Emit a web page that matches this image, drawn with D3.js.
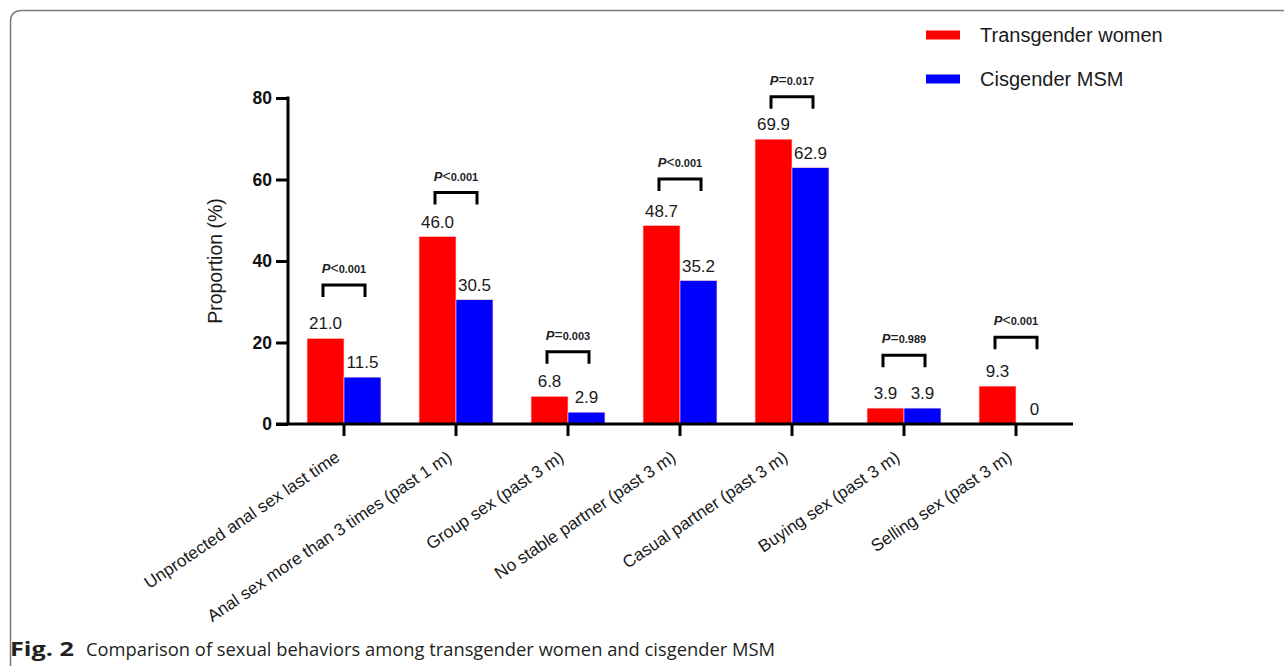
<!DOCTYPE html>
<html>
<head>
<meta charset="utf-8">
<script src="https://cdn.jsdelivr.net/npm/d3@7/dist/d3.min.js"></script>
<style>
  html, body { margin: 0; padding: 0; background: #fff; }
  svg { display: block; }
</style>
</head>
<body>
<svg id="chart" width="1284" height="666"></svg>
<script>
// Sexual behaviours: transgender women vs cisgender MSM (%)
const categories = [
  "Unprotected anal sex last time",
  "Anal sex more than 3 times (past 1 m)",
  "Group sex (past 3 m)",
  "No stable partner (past 3 m)",
  "Casual partner (past 3 m)",
  "Buying sex (past 3 m)",
  "Selling sex (past 3 m)"
];
const seriesNames = ["Transgender women", "Cisgender MSM"];
const transgenderWomen = [21.0, 46.0, 6.8, 48.7, 69.9, 3.9, 9.3];
const cisgenderMSM = [11.5, 30.5, 2.9, 35.2, 62.9, 3.9, 0];
const pSigns = ["<", "<", "=", "<", "=", "=", "<"];
const pNumbers = ["0.001", "0.001", "0.003", "0.001", "0.017", "0.989", "0.001"];
// height (in % units) of the significance bracket above each pair
const bracketLevels = [34.1, 56.8, 17.7, 60.1, 80.3, 16.9, 21.3];
const yTickValues = [0, 20, 40, 60, 80];
const valueLabels = [
  ["21.0", "46.0", "6.8", "48.7", "69.9", "3.9", "9.3"],
  ["11.5", "30.5", "2.9", "35.2", "62.9", "3.9", "0"]
];
const colors = ["#ff0000", "#0000ff"];

const svg = d3.select("#chart");
const FONT = "'Liberation Sans', Arial, Helvetica, sans-serif";

// Panel frame with rounded top-left corner
svg.append("path")
  .attr("d", "M10.5,666 V22 Q10.5,10.5 22,10.5 H1284")
  .attr("fill", "none")
  .attr("stroke", "#7a7a7a")
  .attr("stroke-width", 1.5);

const plot = { left: 288, right: 1072, top: 98, bottom: 424 };

const x0 = d3.scaleBand()
  .domain(categories)
  .range([plot.left, plot.right])
  .paddingInner(0.34)
  .paddingOuter(0.17);

const x1 = d3.scaleBand()
  .domain(seriesNames)
  .range([0, x0.bandwidth()])
  .padding(0);

const y = d3.scaleLinear().domain([0, 80]).range([plot.bottom, plot.top]);

const rows = categories.map((c, i) => ({
  cat: c,
  values: [transgenderWomen[i], cisgenderMSM[i]],
  labels: [valueLabels[0][i], valueLabels[1][i]],
  i
}));

// Bars
const groups = svg.append("g").selectAll("g")
  .data(rows).join("g")
  .attr("transform", d => `translate(${x0(d.cat)},0)`);

groups.selectAll("rect")
  .data(d => d.values.map((v, k) => ({ v, k, name: seriesNames[k] })))
  .join("rect")
  .attr("x", d => x1(d.name))
  .attr("y", d => y(d.v))
  .attr("width", x1.bandwidth())
  .attr("height", d => y(0) - y(d.v))
  .attr("fill", d => colors[d.k])
  .attr("stroke", "#ffd0d0")
  .attr("stroke-width", 0.6);

// Value labels
groups.selectAll("text.val")
  .data(d => d.values.map((v, k) => ({ v, k, name: seriesNames[k], label: d.labels[k] })))
  .join("text")
  .attr("class", "val")
  .attr("x", d => x1(d.name) + x1.bandwidth() / 2)
  .attr("y", d => y(d.v) - 9)
  .attr("text-anchor", "middle")
  .attr("font-family", FONT)
  .attr("font-size", 17)
  .attr("fill", "#1a1a1a")
  .text(d => d.label);

// Significance brackets
const bracketHalf = 21, legLen = 12;
const brackets = svg.append("g");
rows.forEach(d => {
  const cx = x0(d.cat) + x0.bandwidth() / 2;
  const by = y(bracketLevels[d.i]);
  brackets.append("path")
    .attr("d", `M${cx - bracketHalf},${by + legLen} V${by} H${cx + bracketHalf} V${by + legLen}`)
    .attr("fill", "none")
    .attr("stroke", "#000")
    .attr("stroke-width", 3);
  const t = brackets.append("text")
    .attr("x", cx)
    .attr("y", by - 12)
    .attr("text-anchor", "middle")
    .attr("font-family", FONT)
    .attr("font-weight", "bold")
    .attr("fill", "#222");
  t.append("tspan").attr("font-style", "italic").attr("font-size", 13).text("P");
  t.append("tspan").attr("font-size", 14).attr("font-weight", "normal").text(pSigns[d.i]);
  t.append("tspan").attr("font-size", 11).text(pNumbers[d.i]);
});

// Y axis
const yAxis = d3.axisLeft(y).tickValues(yTickValues).tickSize(12).tickPadding(4).tickFormat(d3.format("d"));
const gy = svg.append("g").attr("transform", `translate(${plot.left},0)`).call(yAxis);
gy.select(".domain").attr("stroke", "#000").attr("stroke-width", 3)
  .attr("d", `M0,${plot.top - 1.5}V${plot.bottom}`);
gy.selectAll(".tick line").attr("stroke", "#000").attr("stroke-width", 3);
gy.selectAll(".tick text")
  .attr("font-family", FONT)
  .attr("font-weight", "bold")
  .attr("font-size", 17.5)
  .attr("fill", "#111");

// X axis
const xAxis = d3.axisBottom(x0).tickSize(12).tickFormat("").tickSizeOuter(0);
const gx = svg.append("g").attr("transform", `translate(0,${plot.bottom})`).call(xAxis);
gx.select(".domain").attr("stroke", "#000").attr("stroke-width", 3)
  .attr("d", `M${plot.left - 12},0H${plot.right + 1}`);
gx.selectAll(".tick line").attr("stroke", "#000").attr("stroke-width", 3);

// Rotated category labels
svg.append("g").selectAll("text")
  .data(categories).join("text")
  .attr("transform", d => `translate(${x0(d) + x0.bandwidth() / 2 - 3},${plot.bottom + 36}) rotate(-34)`)
  .attr("text-anchor", "end")
  .attr("font-family", FONT)
  .attr("font-size", 17.2)
  .attr("fill", "#1a1a1a")
  .text(d => d);

// Y axis title
svg.append("text")
  .attr("transform", `translate(222,${(plot.top + plot.bottom) / 2}) rotate(-90)`)
  .attr("text-anchor", "middle")
  .attr("font-family", FONT)
  .attr("font-size", 19.5)
  .attr("fill", "#1a1a1a")
  .text("Proportion (%)");

// Legend
const legend = svg.append("g");
seriesNames.forEach((name, k) => {
  const ly = 35 + k * 44;
  legend.append("rect")
    .attr("x", 926).attr("y", ly - 4.5)
    .attr("width", 34).attr("height", 9)
    .attr("fill", colors[k]);
  legend.append("text")
    .attr("x", 980).attr("y", ly + 7)
    .attr("font-family", FONT)
    .attr("font-size", 20)
    .attr("fill", "#1a1a1a")
    .text(name);
});

// Figure caption
const cap = svg.append("text")
  .attr("x", 10).attr("y", 656)
  .attr("font-family", "'Open Sans', 'Noto Sans', sans-serif")
  .attr("font-size", 19)
  .attr("fill", "#231f20");
cap.append("tspan").attr("font-weight", "bold")
  .attr("textLength", 64).attr("lengthAdjust", "spacingAndGlyphs")
  .text("Fig. 2");
cap.append("tspan").attr("x", 86)
  .attr("textLength", 689).attr("lengthAdjust", "spacingAndGlyphs")
  .text("Comparison of sexual behaviors among transgender women and cisgender MSM");
</script>
</body>
</html>
